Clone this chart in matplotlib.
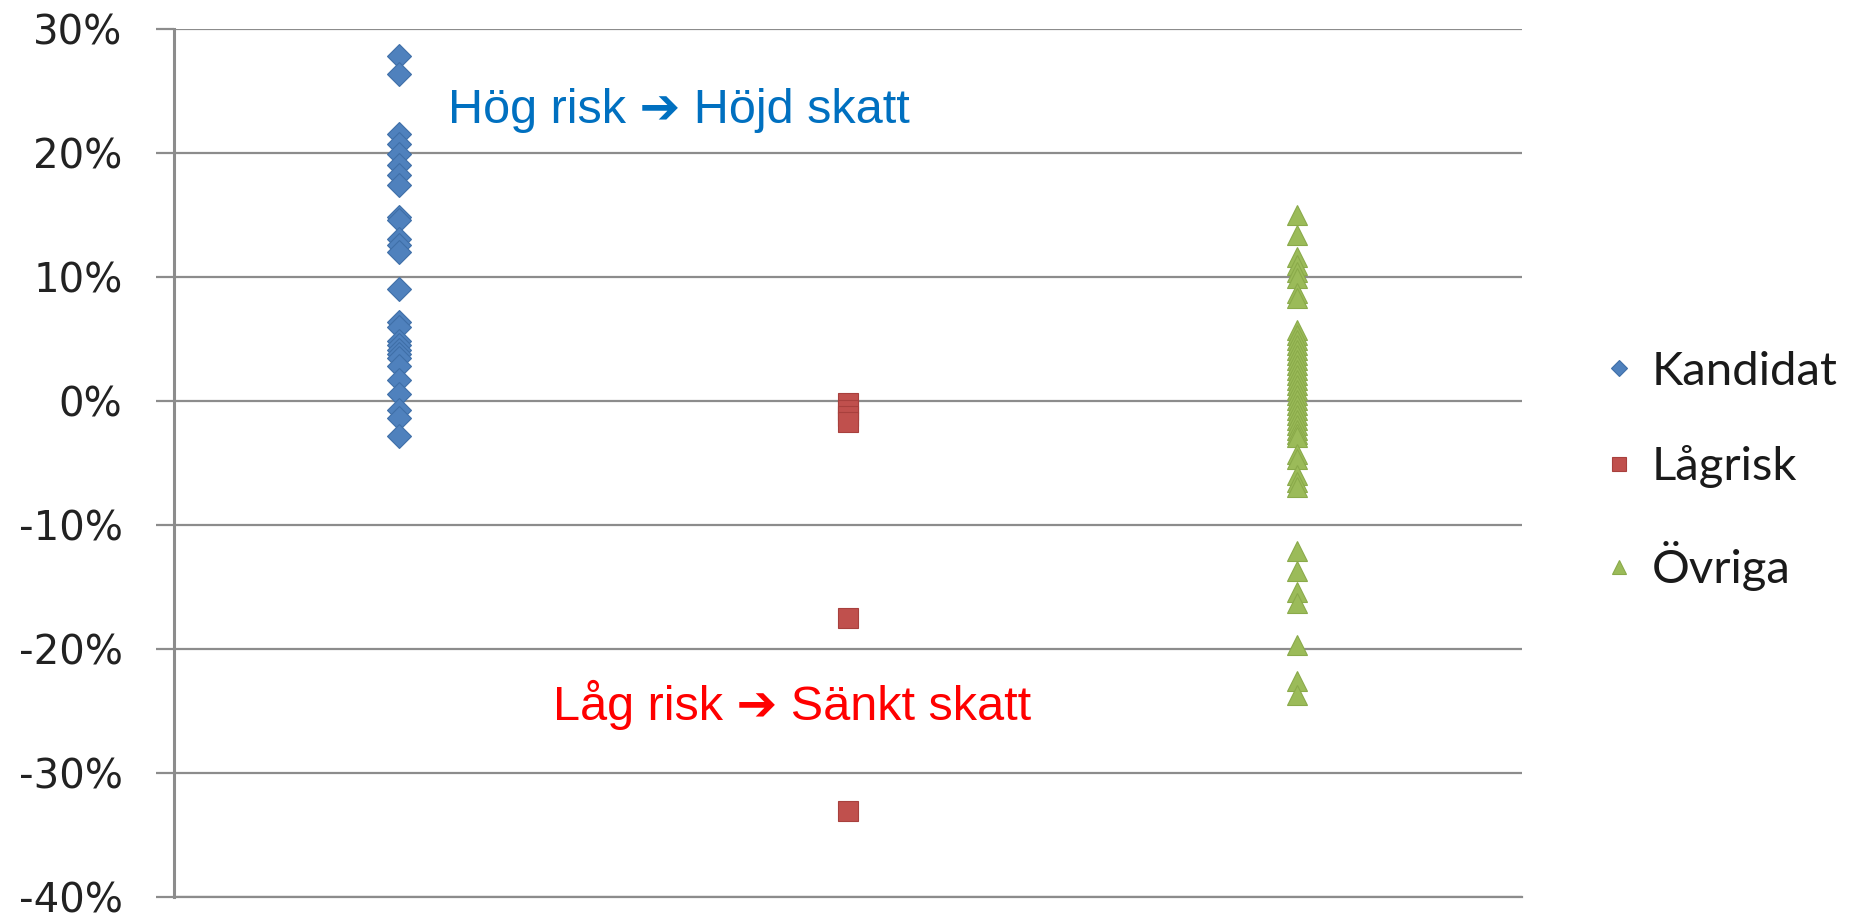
import matplotlib
matplotlib.use('Agg')
import matplotlib.pyplot as plt
from matplotlib.ticker import PercentFormatter

plt.rcParams['axes.unicode_minus'] = False

# Data (values in %)
series_names = ['Kandidat', 'Lågrisk', 'Övriga']

kandidat = [27.8, 26.4,
            21.5, 20.7, 19.9, 19.0, 18.2, 17.4,
            14.8, 14.6, 13.1, 12.6, 12.0,
            9.0,
            6.4, 6.0, 4.8, 4.5, 4.1, 3.8, 3.5, 2.8, 1.7, 0.6, -0.7, -1.4, -2.8]

lagrisk = [-0.2, -0.7, -1.2, -1.7, -17.5, -33.1]

ovriga = [15.0, 13.4,
          11.6, 11.0, 10.4, 9.9, 8.7, 8.3,
          5.7, 5.3, 4.9, 4.5, 4.1, 3.7, 3.3, 2.9, 2.5, 2.1, 1.7, 1.3, 0.9,
          0.5, 0.1, -0.3, -0.7, -1.1, -1.5, -1.9, -2.3, -2.7, -2.9,
          -4.3, -4.7, -6.0, -6.5, -6.9,
          -12.1, -13.7, -15.4, -16.3, -19.7, -22.6, -23.7]

y_ticks = [-40, -30, -20, -10, 0, 10, 20, 30]

# ==============================================================================
# figure
# ==============================================================================
fig = plt.figure(figsize=(18.56, 9.18), dpi=100)
ax = fig.add_axes([174 / 1856, 1 - 897 / 918, (1522 - 174) / 1856, (897 - 29) / 918])

styles = {
    'Kandidat': {'marker': 'D', 'color': '#4F81BD', 'edge': '#3F6FA8', 'ms': 12.0},
    'Lågrisk': {'marker': 's', 'color': '#C0504D', 'edge': '#A8403D', 'ms': 14.5},
    'Övriga': {'marker': '^', 'color': '#9BBB59', 'edge': '#8AAA4A', 'ms': 14.5},
}

for i, (name, values) in enumerate(zip(series_names, [kandidat, lagrisk, ovriga])):
    st = styles[name]
    ax.plot([i + 1] * len(values), [v / 100 for v in values],
            linestyle='none', marker=st['marker'], markersize=st['ms'],
            markerfacecolor=st['color'], markeredgecolor=st['edge'],
            markeredgewidth=0.8, label=name, zorder=5)

ax.set_xlim(0.5, 3.5)
ax.set_ylim(-0.40, 0.30)
ax.set_yticks([t / 100 for t in y_ticks])
ax.yaxis.set_major_formatter(PercentFormatter(1.0, decimals=0))
ax.set_xticks([])

grid_color = '#8C8C8C'
ax.grid(True, axis='y', color=grid_color, linewidth=1.6, zorder=0)
ax.set_axisbelow(True)
for side in ['top', 'right']:
    ax.spines[side].set_visible(False)
ax.spines['left'].set_color(grid_color)
ax.spines['left'].set_linewidth(2.2)
ax.spines['bottom'].set_color(grid_color)
ax.spines['bottom'].set_linewidth(1.6)

ax.tick_params(axis='y', length=13, width=1.6, color=grid_color, pad=24,
               labelsize=29, labelcolor='#222222')
for lbl in ax.get_yticklabels():
    lbl.set_fontfamily('DejaVu Sans')

# annotations
ax.text(1.11, 0.224, 'Hög risk ➔ Höjd skatt', color='#0070C0', fontsize=35,
        family=['Liberation Sans', 'DejaVu Sans'], ha='left', va='baseline')
ax.text(1.344, -0.257, 'Låg risk ➔ Sänkt skatt', color='#FF0000', fontsize=35,
        family=['Liberation Sans', 'DejaVu Sans'], ha='left', va='baseline')

# legend
leg = fig.legend(loc='center left', bbox_to_anchor=(1600 / 1856, 1 - 471 / 918),
                 frameon=False, prop={'family': 'Lato', 'size': 34},
                 handlelength=0.8, handletextpad=0.3, labelspacing=1.12,
                 borderpad=0, borderaxespad=0, markerscale=0.72)
for t in leg.get_texts():
    t.set_color('#1A1A1A')

plt.savefig('out.png', dpi=100)
plt.close(fig)
